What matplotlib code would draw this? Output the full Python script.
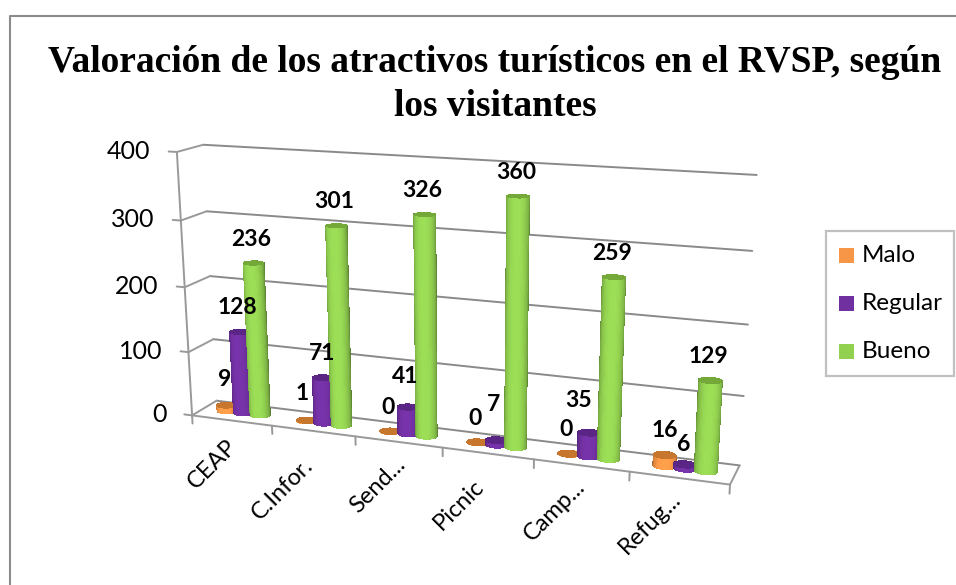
# valoracion de atractivos, 3d cylinders
# excel's perspective is not a real camera so the projection is fitted to the frame corners
import numpy as np
import matplotlib
matplotlib.use('Agg')
import matplotlib.pyplot as plt
from matplotlib.patches import Rectangle
from matplotlib.lines import Line2D
from mpl_toolkits.mplot3d import proj3d

categories = ['CEAP', 'C.Infor.', 'Send...', 'Picnic', 'Camp...', 'Refug...']
series_names = ['Malo', 'Regular', 'Bueno']
malo = [9, 1, 0, 0, 0, 16]
regular = [128, 71, 41, 7, 35, 6]
bueno = [236, 301, 326, 360, 259, 129]
y_ticks = [0, 100, 200, 300, 400]
title = 'Valoración de los atractivos turísticos en el RVSP, según\nlos visitantes'

side_colors = ['#F79646', '#7030A0', '#92D050']
top_colors = ['#C6762D', '#5A2585', '#74A838']

W, H = 956, 585
LINE = '#999999'

# frame corners: (x, depth, value) -> pixel in the picture
corners = [((0, 0, 0), (192, 415)), ((0, 0, 400), (177, 152)),
           ((0, 3, 0), (217, 402)), ((0, 3, 400), (203, 145)),
           ((0, 3, 100), (213, 338)), ((6, 3, 100), (743, 396)),
           ((6, 3, 0), (740, 465)), ((6, 3, 400), (757, 175)),
           ((6, 0, 0), (730, 485))]

# label shifts in pixels, excel moved the short ones around
malo_dx = [0, -3, 0, 0, -1, 2]
malo_dy = [2, 3, 0, 0, 0, 0]
regular_dx = [0, 1, -1, -1, -9, 1]
regular_dy = [0, 0, 7, 12, 8, -4]
cat_dx = [-6, -10.5, -4, -14.5, -7, -9.5]
cat_dy = [-15, -24, -12, -22, -10, -10]


def fit_projection(ax):
    inv = ax.transData.inverted()
    rows, rhs = [], []
    for (x, y, z), (px, py) in corners:
        u, v = inv.transform((px, H - py))
        rows.append([x, y, z, 1, 0, 0, 0, 0, -u * x, -u * y, -u * z])
        rhs.append(u)
        rows.append([0, 0, 0, 0, x, y, z, 1, -v * x, -v * y, -v * z])
        rhs.append(v)
    p = np.linalg.lstsq(np.array(rows), np.array(rhs), rcond=None)[0]
    w = np.array([p[8], p[9], p[10], 1])
    # depth row: back first, then left to right, caps after their sides
    # kept negative everywhere because mplot3d culls lines with positive depth
    depth = np.array([-0.1, 1, -0.001, 0]) - 10 * w
    return np.array([p[:4], p[4:8], depth, w])


def cylinder(ax, x, y, h, rx, ry, side, top):
    t = np.linspace(0, 2 * np.pi, 61)
    h = max(h, 0.3)
    T, Z = np.meshgrid(t, [0, h])
    rgb = np.array(matplotlib.colors.to_rgb(side))
    # bright in the middle, dark to the edges
    k = 0.62 + 0.45 * np.clip(-np.sin(T - 0.15), 0, 1) ** 0.8
    cols = np.clip(rgb[None, None, :] * k[..., None], 0, 1)
    cols = np.dstack([cols, np.ones(k.shape)])
    ax.plot_surface(x + rx * np.cos(T), y + ry * np.sin(T), Z, facecolors=cols, shade=False,
                    linewidth=0, antialiased=False, rstride=1, cstride=1)
    R, T2 = np.meshgrid([0, 1], t)
    ax.plot_surface(x + rx * R * np.cos(T2), y + ry * R * np.sin(T2), np.full(R.shape, h),
                    color=top, shade=False, linewidth=0, antialiased=False)


fig = plt.figure(figsize=(W / 100, H / 100), dpi=100)
# outer frame, only top and left are in the picture
fig.add_artist(Line2D([10 / W, 10 / W, 1], [0, 1 - 15.5 / H, 1 - 15.5 / H], color='#8c8c8c', lw=1.5))
fig.text(495 / W, 1 - 62 / H, title.split('\n')[0], family='Liberation Serif', weight='bold', fontsize=27, ha='center', va='center')
fig.text(495 / W, 1 - 107 / H, title.split('\n')[1], family='Liberation Serif', weight='bold', fontsize=27, ha='center', va='center')

# axes3d forces a square box, so it hangs over the top and bottom of the figure
ax = fig.add_axes([0, -(W - H) / 2 / H, 1, W / H], projection='3d')
ax.set_axis_off()
ax.apply_aspect()
P = fit_projection(ax)
ax.get_proj = lambda: P


def at(x, y, z):
    u, v, _ = proj3d.proj_transform(x, y, z, P)
    return float(u), float(v)


def label(x, y, z, s, dx=0, dy=0, **kw):
    ax.annotate(s, xy=at(x, y, z), xytext=(dx, dy), textcoords='offset pixels', zorder=1000, annotation_clip=False, **kw)


def line(xs, ys, zs, color=LINE, lw=1.4):
    ax.plot(xs, ys, zs, color=color, lw=lw, solid_capstyle='round')


for v in y_ticks:
    line([0, 6], [3, 3], [v, v], color='#8a8a8a')
    line([0, 0], [0, 3], [v, v])
    line([-0.1, 0], [0, 0], [v, v])
    label(-0.1, 0, v, str(v), dx=-18, ha='right', va='center', family='Lato', fontsize=18)
line([0, 0], [0, 0], [0, 400])
line([0, 6], [0, 0], [0, 0])
line([6, 6], [0, 3], [0, 0])

data = [malo, regular, bueno]
for j in range(3):
    for i in range(len(categories)):
        h = data[j][i]
        bx = i + 0.5 + (j - 1) * 0.21
        cylinder(ax, bx, 1.5, h, 0.115, 0.55, side_colors[j], top_colors[j])
        dx, dy = -2, 24
        if j == 0:
            dx += malo_dx[i]
            dy += malo_dy[i]
        if j == 1:
            dx += regular_dx[i]
            dy += regular_dy[i]
        label(bx, 1.5, h, str(h), dx=dx, dy=dy, ha='center', va='center', weight='bold', family='Lato', fontsize=16.5)

for i in range(len(categories) + 1):
    line([i, i], [0, 0], [0, -13])
for i, cat in enumerate(categories):
    label(i + 0.5, 0, 0, cat, dx=cat_dx[i], dy=cat_dy[i], rotation=45, ha='right', va='top', family='Lato', fontsize=17, rotation_mode='anchor')

# legend
fig.add_artist(Rectangle((826 / W, 1 - 376 / H), 128 / W, 145 / H, fc='white', ec='#c0c0c0', lw=1.6, transform=fig.transFigure, zorder=5))
for name, c, py in zip(series_names, side_colors, [255.5, 303.5, 351.5]):
    fig.add_artist(Rectangle((839 / W, 1 - (py + 7.5) / H), 15 / W, 15 / H, fc=c, ec='none', transform=fig.transFigure, zorder=6))
    fig.text(862 / W, 1 - py / H, name, family='Lato', fontsize=17.5, va='center', zorder=6)

fig.savefig('out.png', dpi=100)
